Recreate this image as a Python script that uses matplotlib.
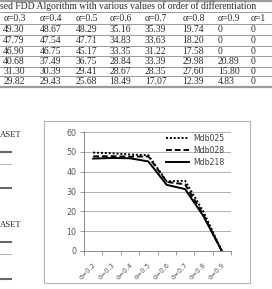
import matplotlib
matplotlib.use("Agg")
import matplotlib.pyplot as plt
from matplotlib.patches import Rectangle
from matplotlib.lines import Line2D
from matplotlib.transforms import ScaledTranslation

W, H = 272, 289

# table (cropped part of the page)
table_title = "sed FDD Algorithm with various values of order of differentiation"
table_head = ["α=0.3", "α=0.4", "α=0.5", "α=0.6", "α=0.7", "α=0.8", "α=0.9", "α=1"]
table_rows = [
    ["49.30", "48.67", "48.29", "35.16", "35.39", "19.74", "0", "0"],
    ["47.79", "47.54", "47.71", "34.83", "33.63", "18.20", "0", "0"],
    ["46.90", "46.75", "45.17", "33.35", "31.22", "17.58", "0", "0"],
    ["40.68", "37.49", "36.75", "28.84", "33.39", "29.98", "20.89", "0"],
    ["31.30", "30.39", "29.41", "28.67", "28.35", "27.60", "15.80", "0"],
    ["29.82", "29.43", "25.68", "18.49", "17.07", "12.39", "4.83", "0"],
]

# chart
alphas = ["α=0.2", "α=0.3", "α=0.4", "α=0.5", "α=0.6", "α=0.7", "α=0.8", "α=0.9"]
mdb025 = [49.6, 49.30, 48.67, 48.29, 35.16, 35.39, 19.74, 0]
mdb028 = [47.7, 47.79, 47.54, 47.71, 34.83, 33.63, 18.20, 0]
mdb218 = [46.6, 46.90, 46.75, 45.17, 33.35, 31.22, 17.58, 0]


def fx(px):
    return px / W


def fy(py):
    return 1 - py / H


fig = plt.figure(figsize=(W / 100, H / 100), dpi=100)
fig.patch.set_facecolor("white")

serif = "Liberation Serif"
tcol = "#2a2a2a"
lcol = "#9a9a9a"
tsize = 6.95

# table lines
fig.add_artist(Line2D([0, 1], [fy(0.8), fy(0.8)], color=lcol, lw=1.6))
for yl in [11.7, 24, 35, 46, 56, 66.5, 76.3]:
    fig.add_artist(Line2D([0, 1], [fy(yl), fy(yl)], color=lcol, lw=0.7))
fig.add_artist(Line2D([0, 1], [fy(86.8), fy(86.8)], color=lcol, lw=1.6))

fig.text(fx(0), fy(5.7), table_title, family=serif, fontsize=tsize, color=tcol,
         ha="left", va="center")
col_x = [3.3, 40, 76, 109.5, 145, 182.5, 218, 250.5]
row_y = [29.7, 40.7, 51, 61.3, 71.3, 81]
for x, h in zip(col_x, table_head):
    fig.text(fx(x), fy(18.3), h, family=serif, fontsize=tsize, color=tcol,
             ha="left", va="center")
for y, row in zip(row_y, table_rows):
    for x, v in zip(col_x, row):
        fig.text(fx(x), fy(y), v, family=serif, fontsize=tsize, color=tcol,
                 ha="left", va="center")

# left column fragments
for ty in [135, 225]:
    fig.text(fx(-0.5), fy(ty), "ASET", family=serif, fontsize=6.2, color=tcol,
             ha="left", va="center")
for ly, lw, c in [(151.7, 1.5, "#666666"), (164, 0.6, "#aaaaaa"), (188, 1.5, "#666666"),
                  (241.7, 1.5, "#666666"), (254, 0.6, "#aaaaaa"), (278.5, 1.5, "#666666")]:
    fig.add_artist(Line2D([0, fx(11)], [fy(ly), fy(ly)], color=c, lw=lw))

# chart frame
fig.add_artist(Rectangle((fx(44), fy(283)), fx(250) - fx(44), fy(121) - fy(283),
                         transform=fig.transFigure, fill=False, ec="#b5b5b5", lw=0.8))

ax = fig.add_axes([fx(84), fy(251), fx(231) - fx(84), fy(132) - fy(251)])
x = list(range(len(alphas)))
ax.plot(x, mdb025, color="black", lw=1.4, ls=(0, (1, 1)), label="Mdb025")
ax.plot(x, mdb028, color="black", lw=1.4, ls=(0, (3, 1.5)), label="Mdb028")
ax.plot(x, mdb218, color="black", lw=1.4, ls="-", label="Mdb218")

ax.set_xlim(-0.5, len(alphas) - 0.5)
ax.set_ylim(0, 60)
ax.set_yticks(range(0, 61, 10))
ax.set_xticks(x)
ax.set_xticklabels(alphas, rotation=45, ha="right", rotation_mode="anchor",
                   fontsize=4.9, color="#595959")
shift = ScaledTranslation(-5 / 100, -2 / 100, fig.dpi_scale_trans)
for lab in ax.get_xticklabels():
    lab.set_transform(lab.get_transform() + shift)
ax.set_xticks([i - 0.5 for i in range(len(alphas) + 1)], minor=True)
ax.tick_params(axis="x", which="major", length=0, pad=8)
ax.tick_params(axis="x", which="minor", length=3, color="#888888", width=0.6)
ax.tick_params(axis="y", length=3, color="#888888", width=0.6, labelsize=5.8,
               labelcolor="#595959", pad=2.5)
ax.grid(axis="y", color="#b0b0b0", lw=0.7)
ax.set_axisbelow(True)
for s in ["top", "right"]:
    ax.spines[s].set_visible(False)
for s in ["left", "bottom"]:
    ax.spines[s].set_color("#888888")
    ax.spines[s].set_linewidth(0.7)

ax.legend(loc="upper right", bbox_to_anchor=(fx(228), fy(130)),
          bbox_transform=fig.transFigure, frameon=False, fontsize=5.6,
          handlelength=3.0, handletextpad=0.5, labelspacing=0.4,
          borderpad=0, labelcolor="#404040")

fig.savefig("out.png", dpi=100)
